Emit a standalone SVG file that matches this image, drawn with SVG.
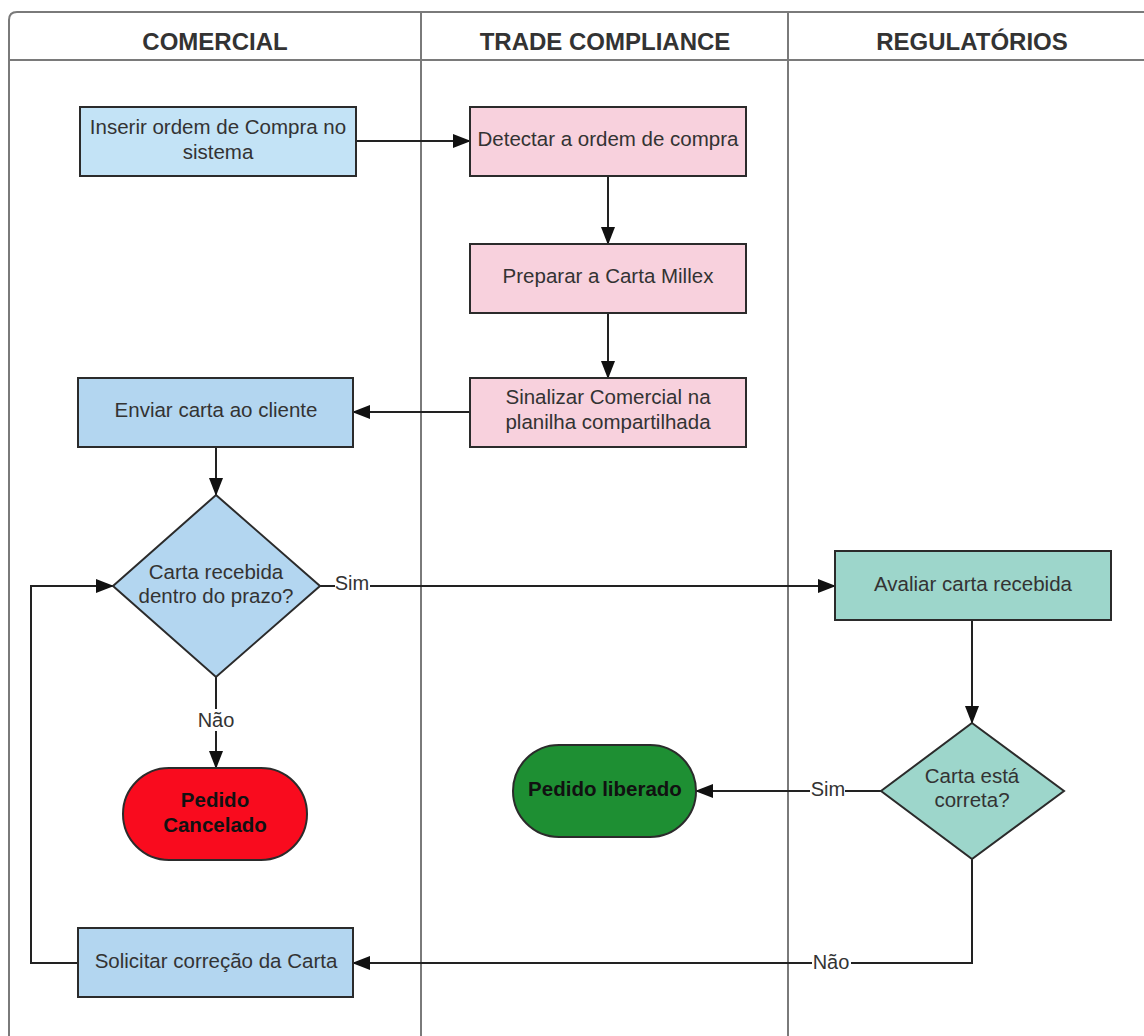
<svg xmlns="http://www.w3.org/2000/svg" width="1144" height="1036" viewBox="0 0 1144 1036">
  <style>
    .lane { fill: none; stroke: #7a7a7a; stroke-width: 2; }
    .hdr { font-family: "Liberation Sans", Arial, sans-serif; font-size: 24px; font-weight: bold; fill: #333; text-anchor: middle; }
    .box { stroke: #2b2b2b; stroke-width: 2; }
    .txt { font-family: "Liberation Sans", Arial, sans-serif; font-size: 20.5px; fill: #333; text-anchor: middle; }
    .btxt { font-family: "Liberation Sans", Arial, sans-serif; font-size: 20.5px; font-weight: bold; fill: #111; text-anchor: middle; }
    .edge { fill: none; stroke: #222; stroke-width: 2; }
    .lbl { font-family: "Liberation Sans", Arial, sans-serif; font-size: 20px; fill: #333; text-anchor: middle; }
    .lblbg { fill: #fff; }
  </style>
  <defs>
    <marker id="arrow" markerWidth="18" markerHeight="14" refX="17" refY="7" orient="auto" markerUnits="userSpaceOnUse">
      <path d="M0,0 L18,7 L0,14 Z" fill="#111"/>
    </marker>
  </defs>

  <rect width="1144" height="1036" fill="#fff"/>

  <!-- swimlane frame -->
  <g id="lanes">
    <path class="lane" d="M1150,12 H17 Q9,12 9,20 V1040"/>
    <line class="lane" x1="9" y1="60" x2="1150" y2="60"/>
    <line class="lane" x1="421" y1="12" x2="421" y2="1040" stroke-width="1.5"/>
    <line class="lane" x1="788" y1="12" x2="788" y2="1040" stroke-width="1.5"/>
    <text class="hdr" x="215" y="50">COMERCIAL</text>
    <text class="hdr" x="605" y="50">TRADE COMPLIANCE</text>
    <text class="hdr" x="972" y="50">REGULATÓRIOS</text>
  </g>

  <!-- connectors -->
  <g id="connectors">
    <line class="edge" x1="356" y1="141" x2="470" y2="141" marker-end="url(#arrow)"/>
    <line class="edge" x1="608" y1="176" x2="608" y2="244" marker-end="url(#arrow)"/>
    <line class="edge" x1="608" y1="313" x2="608" y2="378" marker-end="url(#arrow)"/>
    <line class="edge" x1="470" y1="412" x2="353" y2="412" marker-end="url(#arrow)"/>
    <line class="edge" x1="216" y1="447" x2="216" y2="495" marker-end="url(#arrow)"/>
    <line class="edge" x1="320" y1="586" x2="835" y2="586" marker-end="url(#arrow)"/>
    <line class="edge" x1="216" y1="677" x2="216" y2="768" marker-end="url(#arrow)"/>
    <line class="edge" x1="972" y1="620" x2="972" y2="723" marker-end="url(#arrow)"/>
    <line class="edge" x1="881" y1="791" x2="696" y2="791" marker-end="url(#arrow)"/>
    <polyline class="edge" points="972,859 972,963 353,963" marker-end="url(#arrow)"/>
    <polyline class="edge" points="78,963 31,963 31,586 113,586" marker-end="url(#arrow)"/>

    <rect class="lblbg" x="335" y="573" width="35" height="22"/>
    <text class="lbl" x="352" y="590">Sim</text>
    <rect class="lblbg" x="196" y="709" width="40" height="22"/>
    <text class="lbl" x="216" y="727">Não</text>
    <rect class="lblbg" x="810" y="779" width="35" height="22"/>
    <text class="lbl" x="828" y="796">Sim</text>
    <rect class="lblbg" x="812" y="951" width="39" height="22"/>
    <text class="lbl" x="831" y="969">Não</text>
  </g>

  <g id="inserir">
    <rect class="box" x="80" y="107" width="276" height="69" fill="#c3e3f6"/>
    <text class="txt" x="218" y="134">Inserir ordem de Compra no</text>
    <text class="txt" x="218" y="159">sistema</text>
  </g>

  <g id="detectar">
    <rect class="box" x="470" y="107" width="276" height="69" fill="#f8d1dd"/>
    <text class="txt" x="608" y="146">Detectar a ordem de compra</text>
  </g>

  <g id="preparar">
    <rect class="box" x="470" y="244" width="276" height="69" fill="#f8d1dd"/>
    <text class="txt" x="608" y="283">Preparar a Carta Millex</text>
  </g>

  <g id="sinalizar">
    <rect class="box" x="470" y="378" width="276" height="69" fill="#f8d1dd"/>
    <text class="txt" x="608" y="404">Sinalizar Comercial na</text>
    <text class="txt" x="608" y="429">planilha compartilhada</text>
  </g>

  <g id="enviar">
    <rect class="box" x="78" y="378" width="275" height="69" fill="#b3d6f0"/>
    <text class="txt" x="216" y="417">Enviar carta ao cliente</text>
  </g>

  <g id="decisao-prazo">
    <polygon class="box" points="216,495 320,586 216,677 113,586" fill="#b3d6f0"/>
    <text class="txt" x="216" y="579">Carta recebida</text>
    <text class="txt" x="216" y="603">dentro do prazo?</text>
  </g>

  <g id="cancelado">
    <rect class="box" x="123" y="768" width="184" height="92" rx="46" ry="46" fill="#f90b1e"/>
    <text class="btxt" x="215" y="807">Pedido</text>
    <text class="btxt" x="215" y="832">Cancelado</text>
  </g>

  <g id="solicitar">
    <rect class="box" x="78" y="928" width="275" height="69" fill="#b3d6f0"/>
    <text class="txt" x="216" y="968">Solicitar correção da Carta</text>
  </g>

  <g id="avaliar">
    <rect class="box" x="835" y="551" width="276" height="69" fill="#9dd6cb"/>
    <text class="txt" x="973" y="591">Avaliar carta recebida</text>
  </g>

  <g id="decisao-correta">
    <polygon class="box" points="972,723 1064,791 972,859 881,791" fill="#9dd6cb"/>
    <text class="txt" x="972" y="783">Carta está</text>
    <text class="txt" x="972" y="807">correta?</text>
  </g>

  <g id="liberado">
    <rect class="box" x="513" y="745" width="183" height="92" rx="46" ry="46" fill="#1e8f33"/>
    <text class="btxt" x="605" y="796">Pedido liberado</text>
  </g>
</svg>
